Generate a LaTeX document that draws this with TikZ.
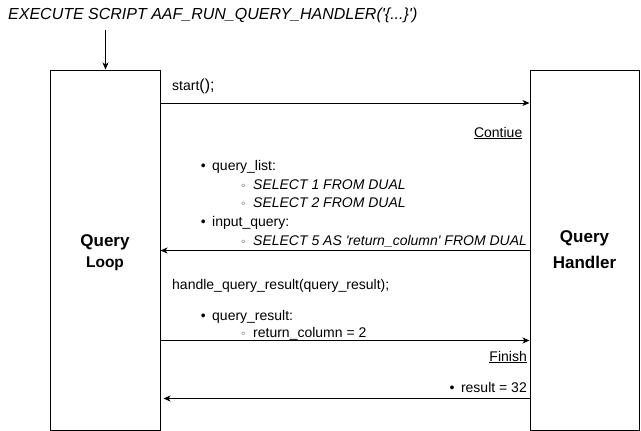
\documentclass[tikz,border=0pt]{standalone}
\usepackage{fontspec}
\setmainfont{Liberation Sans}
\newfontfamily\symfont{DejaVu Sans}
\usetikzlibrary{positioning,arrows.meta}
\tikzset{>={Stealth[length=7pt,width=6pt,inset=2pt]}}
% list markers
\newcommand{\lvlone}{\hspace*{2pt}\makebox[0pt]{\textbullet}\hspace*{9pt}}
\newcommand{\lvltwo}{\hspace*{42pt}\makebox[0pt]{\symfont\fontsize{10}{10}\selectfont ◦}\hspace*{10pt}}
\newcommand{\sq}{\textquotesingle}

\begin{document}
\begin{tikzpicture}[x=1pt,y=-1pt,
					box/.style={draw, rectangle, line width=1pt, minimum height=360pt, align=center, font=\fontsize{17}{20}\selectfont\bfseries},
					txt/.style={inner sep=0pt, anchor=base west, font=\fontsize{14}{16}\selectfont},
					txtr/.style={txt, anchor=base east},
					msg/.style={->, line width=1pt},
				]
				\useasboundingbox (0,0) rectangle (641,431);
				\node[inner sep=0pt, anchor=base west, font=\fontsize{16}{18}\selectfont\itshape] (call) at (8,19.5) {EXECUTE SCRIPT AAF\_RUN\_QUERY\_HANDLER(\sq\{...\}\sq)};
				\node[box, minimum width=110pt] (loop) at (105,250) {\rule{0pt}{18pt}Query\\[1pt]{\fontsize{15.5}{20}\selectfont Loop}};
				\node[box, minimum width=109pt] (handler) at (584.5,250) {Query\\[6pt]Handler};
				\coordinate (entry) at (105.5,30);

				% request
				\node[txt] (start) at (172,90) {start{\fontsize{16}{16}\selectfont ();}};
				\node[txtr] (cont) at (522.5,137) {\underline{Contiue}};
				\node[txt] (q1) at (201,170) {\lvlone query\_list:};
				\node[txt] (q2) at (201,189) {\lvltwo\itshape SELECT 1 FROM DUAL};
				\node[txt] (q3) at (201,207.5) {\lvltwo\itshape SELECT 2 FROM DUAL};
				\node[txt] (q4) at (201,226) {\lvlone input\_query:};
				\node[txt] (q5) at (201,245) {\lvltwo\itshape SELECT 5 AS \sq return\_column\sq{} FROM DUAL};
				% response
				\node[txt] (handle) at (172,289) {handle\_query\_result(query\_result);};
				\node[txt] (r1) at (201,320.5) {\lvlone query\_result:};
				\node[txt] (r2) at (201,337.5) {\lvltwo return\_column = 2};
				\node[txtr] (fin) at (527,361) {\underline{Finish}};
				\node[txtr] (res) at (527,392) {\makebox[0pt]{\textbullet}\hspace*{9pt}result = 32};

				\draw[msg] (entry) -- (loop.north -| entry);
				\draw[msg] (loop.east |- 0,103) -- (handler.west |- 0,103);
				\draw[msg] (handler.west |- 0,250.5) -- (loop.east |- 0,250.5);
				\draw[msg] (loop.east |- 0,340.5) -- (handler.west |- 0,340.5);
				\draw[msg, shorten >=3pt] (handler.west |- 0,398.5) -- (loop.east |- 0,398.5);

			\end{tikzpicture}
\end{document}
